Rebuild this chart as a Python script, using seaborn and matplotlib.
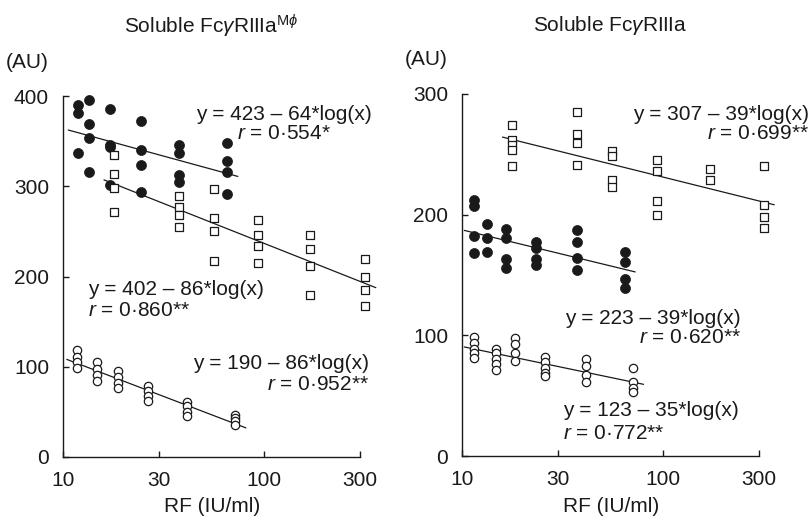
import numpy as np
import pandas as pd
import seaborn as sns
import matplotlib.pyplot as plt
from matplotlib.ticker import FixedLocator, NullLocator

# left panel: soluble FcgRIIIa (M-phi)
left_filled_rf = [11.9, 13.5, 17.1, 24.4, 37.8, 65.5]
left_filled_vals = [[390, 381, 337], [396, 369, 354, 316], [386, 346, 343, 301],
                    [372, 340, 324, 294], [346, 337, 313, 305], [348, 328, 316, 291]]
left_square_rf = [17.9, 37.8, 56.4, 93.3, 169, 318]
left_square_vals = [[335, 314, 298, 272], [289, 277, 268, 255], [297, 265, 250, 217],
                    [263, 246, 234, 215], [246, 231, 212, 180], [219, 200, 185, 167]]
left_open_rf = [11.7, 14.7, 18.8, 26.5, 41.4, 71.8]
left_open_vals = [[119, 111, 105, 99], [105, 98, 91, 84], [95, 89, 82, 76],
                  [79, 73, 68, 62], [61, 56, 50, 45], [47, 43, 40, 36]]

# right panel: soluble FcgRIIIa
right_square_rf = [17.8, 37.3, 55.4, 93.5, 170.6, 316]
right_square_vals = [[274, 262, 258, 254, 240], [285, 267, 259, 241], [253, 249, 229, 223],
                     [245, 236, 211, 200], [238, 229], [240, 208, 198, 189]]
right_filled_rf = [11.5, 13.3, 16.6, 23.4, 37.3, 64.3]
right_filled_vals = [[212, 207, 182, 168], [192, 181, 169], [188, 181, 163, 156],
                     [177, 172, 163, 158], [187, 177, 164, 154], [169, 161, 147, 139]]
right_open_rf = [11.5, 14.8, 18.4, 25.9, 41.4, 70.7]
right_open_vals = [[99, 94, 89, 85, 81], [89, 85, 80, 76, 71], [98, 93, 85, 79],
                   [82, 78, 73, 69, 66], [80, 75, 67, 61], [73, 61, 56, 53]]

x_ticks = [10, 30, 100, 300]
left_y_ticks = [0, 100, 200, 300, 400]
right_y_ticks = [0, 100, 200, 300]

left_labels = [("y = 423 – 64*log(x)", "$r$ = 0·554*"),
               ("y = 402 – 86*log(x)", "$r$ = 0·860**"),
               ("y = 190 – 86*log(x)", "$r$ = 0·952**")]
right_labels = [("y = 307 – 39*log(x)", "$r$ = 0·699**"),
                ("y = 223 – 39*log(x)", "$r$ = 0·620**"),
                ("y = 123 – 35*log(x)", "$r$ = 0·772**")]

sns.set_style("ticks")
plt.rcParams['font.family'] = ['Liberation Sans', 'DejaVu Sans']
plt.rcParams['mathtext.fontset'] = 'custom'
plt.rcParams['mathtext.rm'] = 'Liberation Sans'
plt.rcParams['mathtext.it'] = 'Liberation Sans:italic'
ink = '#1a1a1a'
fs = 15


def to_frame(rf, vals):
    rows = [(x, v) for x, vs in zip(rf, vals) for v in vs]
    return pd.DataFrame(rows, columns=["rf", "value"])


def draw_group(ax, rf, vals, kind):
    df = to_frame(rf, vals)
    if kind == "filled":
        kw = dict(marker="o", s=52, color=ink, edgecolor=ink, linewidth=0.5)
    elif kind == "square":
        kw = dict(marker="s", s=30, facecolor="white", edgecolor=ink, linewidth=0.9)
    else:
        kw = dict(marker="o", s=36, facecolor="white", edgecolor=ink, linewidth=0.9)
    sns.scatterplot(data=df, x="rf", y="value", ax=ax, clip_on=False, zorder=3, **kw)
    # regression line on log10(x)
    slope, icpt = np.polyfit(np.log10(df["rf"]), df["value"], 1)
    xs = np.array([df["rf"].min() / 1.12, df["rf"].max() * 1.13])
    ax.plot(xs, icpt + slope * np.log10(xs), color=ink, lw=0.9, zorder=2, clip_on=False)


def style_axis(ax, yticks):
    ax.set_xscale("log")
    ax.set_xlim(10, 340)
    ax.set_ylim(0, yticks[-1])
    ax.xaxis.set_major_locator(FixedLocator(x_ticks))
    ax.xaxis.set_minor_locator(NullLocator())
    ax.set_xticklabels([str(t) for t in x_ticks])
    ax.set_yticks(yticks)
    ax.spines['bottom'].set_bounds(10, 300)
    sns.despine(ax=ax)
    for sp in ("left", "bottom"):
        ax.spines[sp].set_linewidth(1.0)
        ax.spines[sp].set_color(ink)
    ax.tick_params(direction="in", length=4, width=1.0, colors=ink, labelsize=fs)
    ax.tick_params(axis="y", pad=10)
    ax.tick_params(axis="x", pad=10)
    ax.set_ylabel("")
    ax.set_xlabel("RF (IU/ml)", fontsize=fs, color=ink)
    ax.xaxis.set_label_coords(0.484, -0.112)
    ax.text(-0.115, 1.094, "(AU)", transform=ax.transAxes, fontsize=fs,
            color=ink, ha="center", va="center")


def eq_text(ax, x, y, ry, pair, ha):
    ax.text(x, y, pair[0], fontsize=fs, color=ink, ha=ha, va="center")
    ax.text(x, ry, pair[1], fontsize=fs, color=ink, ha=ha, va="center")


fig = plt.figure(figsize=(8.12, 5.18), dpi=100)
ax1 = fig.add_axes([63 / 812, 61 / 518, 308 / 812, 361 / 518])
ax2 = fig.add_axes([462 / 812, 62 / 518, 308 / 812, 362 / 518])

draw_group(ax1, left_filled_rf, left_filled_vals, "filled")
draw_group(ax1, left_square_rf, left_square_vals, "square")
draw_group(ax1, left_open_rf, left_open_vals, "open")
style_axis(ax1, left_y_ticks)
ax1.text(0.48, 1.194, r"Soluble Fc$\gamma$RIIIa$^{\mathrm{M}\phi}$", transform=ax1.transAxes,
         fontsize=fs, color=ink, ha="center", va="center")
eq_text(ax1, 125, 379, 358, left_labels[0], "center")
eq_text(ax1, 13.3, 186, 162, left_labels[1], "left")
eq_text(ax1, 333, 104, 80, left_labels[2], "right")

draw_group(ax2, right_square_rf, right_square_vals, "square")
draw_group(ax2, right_filled_rf, right_filled_vals, "filled")
draw_group(ax2, right_open_rf, right_open_vals, "open")
style_axis(ax2, right_y_ticks)
ax2.text(0.48, 1.19, r"Soluble Fc$\gamma$RIIIa", transform=ax2.transAxes,
         fontsize=fs, color=ink, ha="center", va="center")
eq_text(ax2, 530, 283, 267, right_labels[0], "right")
eq_text(ax2, 243, 114, 98, right_labels[1], "right")
eq_text(ax2, 31.9, 38, 19, right_labels[2], "left")

fig.savefig("out.png", dpi=100)
